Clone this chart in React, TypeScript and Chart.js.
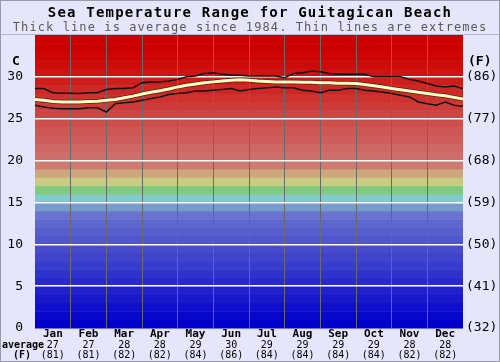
import React, { useEffect, useRef } from "react";
import { Chart, registerables } from "chart.js";

Chart.register(...registerables);

const TITLE = "Sea Temperature Range for Guitagican Beach";
const SUBTITLE = "Thick line is average since 1984. Thin lines are extremes";

const MONTHS = ["Jan", "Feb", "Mar", "Apr", "May", "Jun", "Jul", "Aug", "Sep", "Oct", "Nov", "Dec"];
const MONTH_AVG_C = [27, 27, 28, 28, 29, 30, 29, 29, 29, 29, 28, 28];
const MONTH_AVG_F = [81, 81, 82, 82, 84, 86, 84, 84, 84, 84, 82, 82];

const Y_TICKS_C = [0, 5, 10, 15, 20, 25, 30];
const Y_TICKS_F = [32, 41, 50, 59, 68, 77, 86];

// position in months (0 = 1 Jan, 12 = 31 Dec)
const X_MONTHS = [
  0, 0.25, 0.5, 0.75, 1, 1.25, 1.5, 1.75, 2, 2.25, 2.5, 2.75, 3, 3.25, 3.5, 3.75,
  4, 4.25, 4.5, 4.75, 5, 5.25, 5.5, 5.75, 6, 6.25, 6.5, 6.75, 7, 7.25, 7.5, 7.75,
  8, 8.25, 8.5, 8.75, 9, 9.25, 9.5, 9.75, 10, 10.25, 10.5, 10.75, 11, 11.25, 11.5, 11.75, 12,
];

const AVG_LINE = [
  27.3, 27.2, 27.05, 27.0, 27.0, 27.0, 27.05, 27.1, 27.2, 27.3, 27.5, 27.7, 27.95, 28.15, 28.35, 28.55,
  28.8, 29.0, 29.15, 29.3, 29.4, 29.5, 29.6, 29.65, 29.6, 29.5, 29.45, 29.4, 29.4, 29.4, 29.35, 29.35,
  29.3, 29.3, 29.25, 29.25, 29.2, 29.1, 28.95, 28.8, 28.6, 28.45, 28.3, 28.15, 28.0, 27.85, 27.75, 27.55, 27.35,
];

const MAX_LINE = [
  28.6, 28.6, 28.1, 28.05, 28.05, 28.0, 28.1, 28.1, 28.5, 28.6, 28.6, 28.7, 29.3, 29.4, 29.4, 29.5,
  29.7, 30.0, 30.1, 30.4, 30.5, 30.3, 30.2, 30.2, 30.1, 30.1, 30.1, 30.1, 29.9, 30.4, 30.5, 30.7,
  30.6, 30.4, 30.3, 30.3, 30.3, 30.3, 30.0, 30.0, 30.0, 30.0, 29.7, 29.5, 29.2, 28.9, 28.8, 28.9, 28.6,
];

const MIN_LINE = [
  26.6, 26.4, 26.25, 26.2, 26.2, 26.2, 26.3, 26.3, 25.8, 26.8, 26.9, 27.0, 27.2, 27.4, 27.6, 27.9,
  28.0, 28.1, 28.3, 28.3, 28.4, 28.5, 28.6, 28.3, 28.5, 28.6, 28.7, 28.8, 28.7, 28.7, 28.4, 28.3,
  28.1, 28.4, 28.4, 28.6, 28.6, 28.4, 28.3, 28.2, 28.0, 27.8, 27.6, 27.0, 26.8, 26.6, 27.0, 26.6, 26.5,
];

// background colour bands, one per degree, from 0-1 C upwards (styling only)
const BAND_COLORS = [
  "rgb(0,0,204)", "rgb(8,8,204)", "rgb(16,16,204)", "rgb(24,24,204)", "rgb(32,32,204)",
  "rgb(40,40,204)", "rgb(48,50,204)", "rgb(56,60,204)", "rgb(64,68,204)", "rgb(72,76,204)",
  "rgb(80,86,206)", "rgb(88,94,206)", "rgb(96,104,208)", "rgb(106,116,208)", "rgb(118,156,204)",
  "rgb(126,204,206)", "rgb(128,202,128)", "rgb(202,202,128)", "rgb(206,166,126)", "rgb(206,124,112)",
  "rgb(206,110,106)", "rgb(206,102,100)", "rgb(206,94,92)", "rgb(206,86,84)", "rgb(206,78,76)",
  "rgb(206,70,68)", "rgb(206,60,58)", "rgb(206,50,48)", "rgb(206,40,38)", "rgb(206,30,28)",
  "rgb(206,20,18)", "rgb(205,12,10)", "rgb(205,6,5)", "rgb(204,2,2)", "rgb(204,0,0)",
];

const BG = "#e6e6fa";
const MONO = "'DejaVu Sans Mono', monospace";

const toPoints = (arr: number[]) => X_MONTHS.map((x, i) => ({ x, y: arr[i] }));

const decorPlugin = {
  id: "decor",
  beforeDraw(chart: any) {
    const { ctx, chartArea, scales } = chart;
    const y = scales.y;
    ctx.save();
    ctx.fillStyle = BG;
    ctx.fillRect(0, 0, chart.width, chart.height);
    for (let i = 0; i < BAND_COLORS.length; i++) {
      const top = y.getPixelForValue(i + 1);
      const bottom = y.getPixelForValue(i);
      ctx.fillStyle = BAND_COLORS[i];
      ctx.fillRect(chartArea.left, top, chartArea.right - chartArea.left, bottom - top + 0.5);
    }
    ctx.strokeStyle = "rgba(150,150,180,0.6)";
    ctx.lineWidth = 1;
    ctx.beginPath();
    ctx.moveTo(0, chartArea.top - 0.5);
    ctx.lineTo(chart.width, chartArea.top - 0.5);
    ctx.stroke();
    ctx.strokeStyle = "#9a9aae";
    ctx.strokeRect(0.5, 0.5, chart.width - 1, chart.height - 1);
    ctx.restore();
  },
  afterDraw(chart: any) {
    const { ctx, chartArea, scales } = chart;
    const x = scales.x;
    const y = scales.y;
    ctx.save();
    ctx.textBaseline = "middle";
    // title
    ctx.textAlign = "center";
    ctx.fillStyle = "#000";
    ctx.font = `bold 14px ${MONO}`;
    (ctx as any).letterSpacing = "1.2px";
    ctx.fillText(TITLE, chart.width / 2, 13);
    ctx.fillStyle = "#5a5a5a";
    ctx.font = `12px ${MONO}`;
    (ctx as any).letterSpacing = "1.1px";
    ctx.fillText(SUBTITLE, chart.width / 2, 28);
    (ctx as any).letterSpacing = "0px";

    // left axis
    ctx.fillStyle = "#000";
    ctx.font = `bold 13px ${MONO}`;
    ctx.textAlign = "center";
    ctx.fillText("C", 16, 62);
    ctx.font = `13px ${MONO}`;
    ctx.textAlign = "right";
    Y_TICKS_C.forEach((v) => ctx.fillText(String(v), chartArea.left - 12, y.getPixelForValue(v)));

    // right axis
    ctx.textAlign = "left";
    ctx.font = `bold 13px ${MONO}`;
    ctx.fillText("(F)", chartArea.right + 5, 62);
    ctx.font = `13px ${MONO}`;
    Y_TICKS_C.forEach((v, i) =>
      ctx.fillText(`(${Y_TICKS_F[i]})`, chartArea.right + 3, y.getPixelForValue(v))
    );

    // bottom labels
    ctx.textAlign = "center";
    MONTHS.forEach((m, i) => {
      const px = x.getPixelForValue(i + 0.5);
      ctx.font = `bold 11px ${MONO}`;
      ctx.fillText(m, px, chartArea.bottom + 6);
      ctx.font = `10px ${MONO}`;
      ctx.fillText(String(MONTH_AVG_C[i]), px, chartArea.bottom + 17);
      ctx.fillText(`(${MONTH_AVG_F[i]})`, px, chartArea.bottom + 27);
    });
    ctx.font = `bold 10px ${MONO}`;
    ctx.textAlign = "left";
    ctx.fillText("average", 2, chartArea.bottom + 17);
    ctx.textAlign = "center";
    ctx.fillText("(F)", 22, chartArea.bottom + 27);
    ctx.restore();
  },
};

export default function App() {
  const ref = useRef<HTMLCanvasElement | null>(null);

  useEffect(() => {
    if (!ref.current) return;
    const chart = new Chart(ref.current, {
      type: "line",
      data: {
        datasets: [
          {
            label: "Average",
            data: toPoints(AVG_LINE),
            borderColor: "rgb(255,255,196)",
            borderWidth: 3,
            pointRadius: 0,
            order: 0,
          },
          {
            label: "Average outline",
            data: toPoints(AVG_LINE),
            borderColor: "rgba(90,25,15,0.9)",
            borderWidth: 4.5,
            pointRadius: 0,
            order: 1,
          },
          {
            label: "Maximum",
            data: toPoints(MAX_LINE),
            borderColor: "#111",
            borderWidth: 1.5,
            pointRadius: 0,
            order: 2,
          },
          {
            label: "Minimum",
            data: toPoints(MIN_LINE),
            borderColor: "#111",
            borderWidth: 1.5,
            pointRadius: 0,
            order: 2,
          },
        ],
      },
      options: {
        animation: false,
        responsive: false,
        events: [],
        layout: { padding: { left: 35, right: 37, top: 35, bottom: 34 } },
        plugins: { legend: { display: false }, tooltip: { enabled: false }, title: { display: false } },
        scales: {
          x: {
            type: "linear",
            min: 0,
            max: 12,
            ticks: { display: false, stepSize: 1 },
            grid: {
              drawTicks: false,
              color: (c: any) => (c.tick && c.tick.value > 0 && c.tick.value < 12 ? "#6a6a6a" : "rgba(0,0,0,0)"),
              lineWidth: 1,
            },
            border: { display: false },
            afterFit: (s: any) => {
              s.height = 0;
            },
          },
          y: {
            type: "linear",
            min: 0,
            max: 35,
            ticks: { display: false, stepSize: 5 },
            grid: {
              drawTicks: false,
              color: (c: any) => (c.tick && c.tick.value > 0 && c.tick.value < 35 ? "#ffffff" : "rgba(0,0,0,0)"),
              lineWidth: 1.5,
            },
            border: { display: false },
            afterFit: (s: any) => {
              s.width = 0;
            },
          },
        },
      },
      plugins: [decorPlugin],
    });
    return () => chart.destroy();
  }, []);

  return (
    <div style={{ position: "fixed", left: 0, top: 0, width: 500, height: 362 }}>
      <canvas ref={ref} width={500} height={362} style={{ display: "block" }} />
    </div>
  );
}
